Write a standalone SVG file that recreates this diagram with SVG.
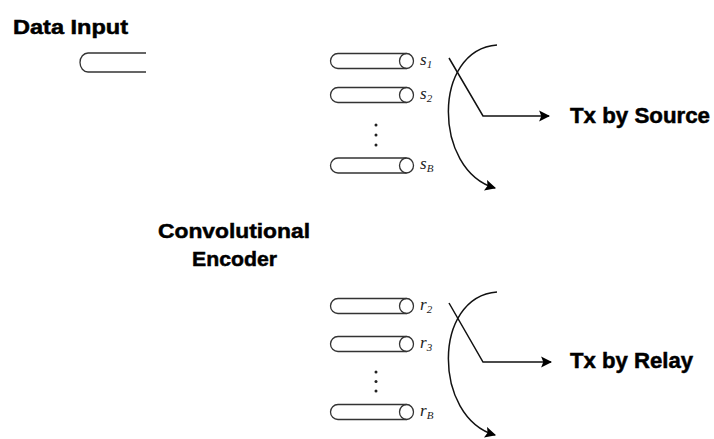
<svg xmlns="http://www.w3.org/2000/svg" width="714" height="439" viewBox="0 0 714 439">
<style>
.lbl{font-family:"Liberation Sans",Arial,sans-serif;font-weight:bold;fill:#000;stroke:#000;stroke-width:0.5}
.var{font-family:"Liberation Serif","Times New Roman",serif;font-style:italic;font-size:17px;fill:#222}
.sub{font-size:11px}
.cyl{fill:none;stroke:#333;stroke-width:1.3}
.ln{fill:none;stroke:#111;stroke-width:1.5}
.dot{fill:#222}
</style>
<defs>
<marker id="ah" viewBox="0 0 10 10" refX="9" refY="5" markerWidth="11" markerHeight="12" markerUnits="userSpaceOnUse" orient="auto">
<path d="M0,0 L10,5 L0,10 L2,5 z" fill="#000"/>
</marker>
<g id="cylshape">
<path class="cyl" d="M406.5,53.5 H338 A7.5,7.5 0 0 0 338,68.5 H406.5"/>
<ellipse class="cyl" cx="406.5" cy="61" rx="7" ry="7.5"/>
</g>
</defs>
<rect width="714" height="439" fill="#fff"/>
<g id="data-input">
<text class="lbl" x="13" y="34" font-size="20" textLength="115" lengthAdjust="spacingAndGlyphs">Data Input</text>
<path class="cyl" d="M146,53 H88 A8,9.5 0 0 0 88,72 H146"/>
</g>
<g id="encoder">
<text class="lbl" x="158" y="238" font-size="21" textLength="152" lengthAdjust="spacingAndGlyphs">Convolutional</text>
<text class="lbl" x="192" y="266" font-size="21" textLength="85" lengthAdjust="spacingAndGlyphs">Encoder</text>
</g>
<g id="source-buffers">
<use href="#cylshape"/>
<text class="var" x="420" y="65">s<tspan class="sub" dy="3">1</tspan></text>
<use href="#cylshape" y="34"/>
<text class="var" x="420" y="99">s<tspan class="sub" dy="3">2</tspan></text>
<circle class="dot" cx="376" cy="125" r="1.5"/>
<circle class="dot" cx="376" cy="135" r="1.5"/>
<circle class="dot" cx="376" cy="145" r="1.5"/>
<use href="#cylshape" y="104.5"/>
<text class="var" x="420" y="169">s<tspan class="sub" dy="3">B</tspan></text>
</g>
<g id="relay-buffers">
<use href="#cylshape" y="245"/>
<text class="var" x="420" y="310">r<tspan class="sub" dy="3">2</tspan></text>
<use href="#cylshape" y="283"/>
<text class="var" x="420" y="348">r<tspan class="sub" dy="3">3</tspan></text>
<circle class="dot" cx="376" cy="372" r="1.5"/>
<circle class="dot" cx="376" cy="381.5" r="1.5"/>
<circle class="dot" cx="376" cy="391" r="1.5"/>
<use href="#cylshape" y="351"/>
<text class="var" x="420" y="416">r<tspan class="sub" dy="3">B</tspan></text>
</g>
<g id="tx-source">
<text class="lbl" x="570" y="123" font-size="22" textLength="140" lengthAdjust="spacingAndGlyphs">Tx by Source</text>
</g>
<g id="tx-relay">
<text class="lbl" x="570" y="368" font-size="22" textLength="123" lengthAdjust="spacingAndGlyphs">Tx by Relay</text>
</g>
<g id="connectors">
<path class="ln" d="M497,45 C432,50 433,170 495,188" marker-end="url(#ah)"/>
<path class="ln" d="M449,58 L483,116 H549" marker-end="url(#ah)"/>
<path class="ln" d="M497,292 C432,297 433,417 495,435" marker-end="url(#ah)"/>
<path class="ln" d="M449,303 L483,362 H551" marker-end="url(#ah)"/>
</g>
</svg>
